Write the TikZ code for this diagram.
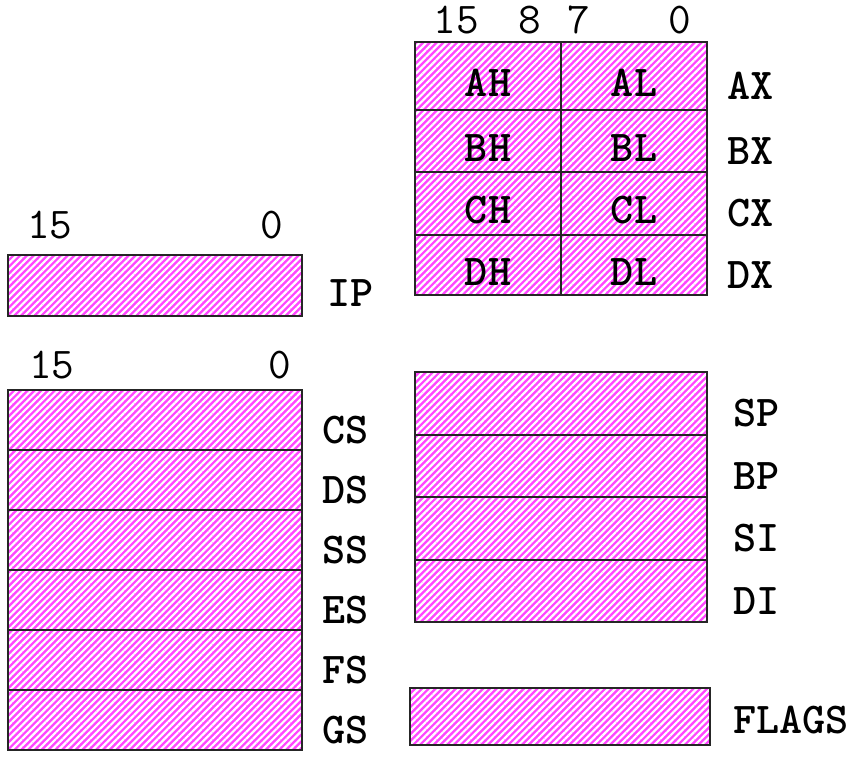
\documentclass[tikz,border=0pt]{standalone}
\usepackage{fontspec}
\usetikzlibrary{positioning, patterns.meta}

\definecolor{regpink}{RGB}{255,70,255}

\begin{document}
\begin{tikzpicture}[
    x=0.5pt,
    y=-0.5pt,
    node distance=0pt,
    reg/.style={
        draw=black!85,
        line width=1pt,
        preaction={fill=regpink},
        pattern={Lines[angle=45, distance=2.4pt, line width=1.1pt]},
        pattern color=white,
        outer sep=0pt,
        inner sep=0pt,
        font=\ttfamily\bfseries\fontsize{22}{25}\selectfont
    },
    half/.style={reg, minimum width=73pt, text height=20pt, text depth=0pt},
    wide/.style={reg, minimum width=146pt, minimum height=31.25pt},
    seg/.style={reg, minimum width=147pt, minimum height=30pt},
    regname/.style={
        font=\ttfamily\bfseries\fontsize{22}{25}\selectfont,
        anchor=west,
        inner sep=0pt,
        yshift=-5pt
    },
    bitnum/.style={
        font=\ttfamily\fontsize{22}{25}\selectfont,
        inner sep=0pt
    }
]

    \useasboundingbox (0,0) rectangle (863,761);

    % === General registers ===
    \node[half, minimum height=34pt, anchor=north west] (ah) at (415,42) {AH};
    \node[half, minimum height=34pt, right=of ah] (al) {AL};
    \node[half, minimum height=31pt, below=of ah] (bh) {BH};
    \node[half, minimum height=31pt, right=of bh] (bl) {BL};
    \node[half, minimum height=31.5pt, below=of bh] (ch) {CH};
    \node[half, minimum height=31.5pt, right=of ch] (cl) {CL};
    \node[half, minimum height=30pt, below=of ch] (dh) {DH};
    \node[half, minimum height=30pt, right=of dh] (dl) {DL};

    \node[regname, right=10pt of al] (ax) {AX};
    \node[regname, right=10pt of bl] (bx) {BX};
    \node[regname, right=10pt of cl] (cx) {CX};
    \node[regname, right=10pt of dl] (dx) {DX};

    \node[bitnum] (g15) at ([xshift=20.5pt, yshift=11pt]ah.north west) {15};
    \node[bitnum] (g8) at ([xshift=57.5pt, yshift=11pt]ah.north west) {8};
    \node[bitnum] (g7) at ([xshift=9pt, yshift=11pt]al.north west) {7};
    \node[bitnum] (g0) at ([xshift=-13.5pt, yshift=11pt]al.north east) {0};

    % === Instruction pointer ===
    \node[wide, minimum height=30.5pt, minimum width=147pt, anchor=north west] (ip) at (8,255) {};
    \node[regname, right=12.5pt of ip, yshift=1pt] (ipname) {IP};

    \node[bitnum] (i15) at ([xshift=21pt, yshift=15pt]ip.north west) {15};
    \node[bitnum] (i0) at ([xshift=-15pt, yshift=15pt]ip.north east) {0};

    % === Segment registers ===
    \node[seg, anchor=north west] (cs) at (8,390) {};
    \node[seg, below=of cs] (ds) {};
    \node[seg, below=of ds] (ss) {};
    \node[seg, below=of ss] (es) {};
    \node[seg, below=of es] (fs) {};
    \node[seg, below=of fs] (gs) {};

    \node[regname, right=10pt of cs] (csname) {CS};
    \node[regname, right=10pt of ds] (dsname) {DS};
    \node[regname, right=10pt of ss] (ssname) {SS};
    \node[regname, right=10pt of es] (esname) {ES};
    \node[regname, right=10pt of fs] (fsname) {FS};
    \node[regname, right=10pt of gs] (gsname) {GS};

    \node[bitnum] (s15) at ([xshift=22pt, yshift=12.5pt]cs.north west) {15};
    \node[bitnum] (s0) at ([xshift=-11pt, yshift=12.5pt]cs.north east) {0};

    % === Pointer and index registers ===
    \node[wide, anchor=north west] (sp) at (415,372) {};
    \node[wide, below=of sp] (bp) {};
    \node[wide, below=of bp] (si) {};
    \node[wide, below=of si] (di) {};

    \node[regname, right=13pt of sp] (spname) {SP};
    \node[regname, right=13pt of bp] (bpname) {BP};
    \node[regname, right=13pt of si] (siname) {SI};
    \node[regname, right=13pt of di] (diname) {DI};

    % === Flags ===
    \node[wide, minimum width=150pt, minimum height=28.5pt, anchor=north west] (flags) at (410,688) {};
    \node[regname, right=11.5pt of flags, yshift=3pt] (flagsname) {FLAGS};

\end{tikzpicture}
\end{document}
